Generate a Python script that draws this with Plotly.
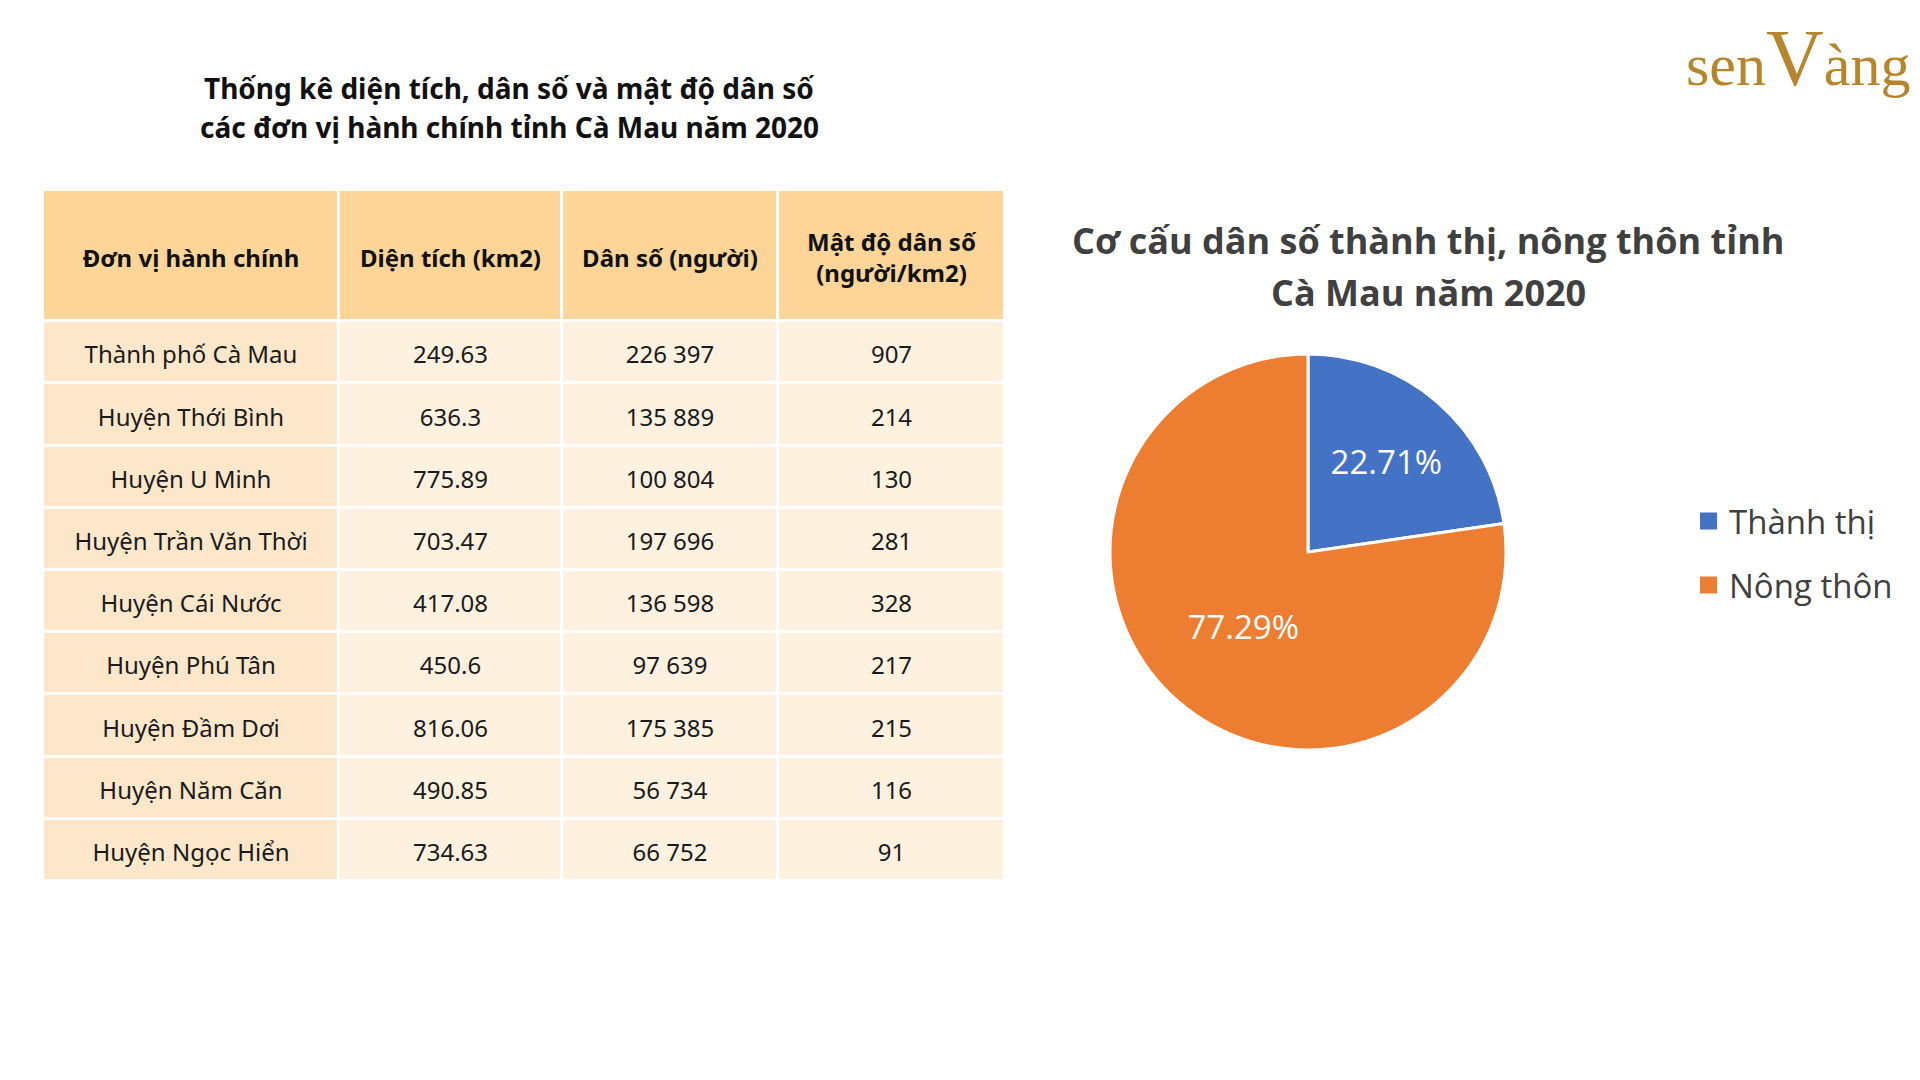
import plotly.graph_objects as go

# ---- data ----
header_labels = ["Đơn vị hành chính", "Diện tích (km2)", "Dân số (người)", "Mật độ dân số<br>(người/km2)"]
units = ["Thành phố Cà Mau", "Huyện Thới Bình", "Huyện U Minh", "Huyện Trần Văn Thời",
         "Huyện Cái Nước", "Huyện Phú Tân", "Huyện Đầm Dơi", "Huyện Năm Căn", "Huyện Ngọc Hiển"]
area_km2 = ["249.63", "636.3", "775.89", "703.47", "417.08", "450.6", "816.06", "490.85", "734.63"]
population = ["226 397", "135 889", "100 804", "197 696", "136 598", "97 639", "175 385", "56 734", "66 752"]
density = ["907", "214", "130", "281", "328", "217", "215", "116", "91"]

pie_labels = ["Thành thị", "Nông thôn"]
pie_values = [22.71, 77.29]
pie_colors = ["#4472C4", "#ED7D31"]

table_title_lines = ["Thống kê diện tích, dân số và mật độ dân số",
                     "các đơn vị hành chính tỉnh Cà Mau năm 2020"]
pie_title_lines = ["Cơ cấu dân số thành thị, nông thôn tỉnh", "Cà Mau năm 2020"]

# ---- layout constants (styles / geometry) ----
OFF = 8                      # default body margin of the html page
W, H = 1920 - 2 * OFF, 1080 - 2 * OFF
COL_WIDTHS = [296, 223, 216, 227]
HEADER_H = 131
ROW_H = 62.1
TEXT_DY = 5                  # visual nudge of cell text (font metrics)
HEADER_FILL, FIRST_COL_FILL, CELL_FILL = "#FDD598", "#FDE7CA", "#FEF1E0"


def px_x(x):
    return (x - OFF) / W


def px_y(y):
    return 1 - (y - OFF) / H


columns = [units, area_km2, population, density]
n_rows = len(units)

col_edges = [0]
for w in COL_WIDTHS:
    col_edges.append(col_edges[-1] + w)
row_edges = [0, HEADER_H] + [HEADER_H + ROW_H * (i + 1) for i in range(n_rows)]
col_centers = [(col_edges[i] + col_edges[i + 1]) / 2 for i in range(len(COL_WIDTHS))]
row_centers = [(row_edges[i] + row_edges[i + 1]) / 2 + TEXT_DY for i in range(n_rows + 1)]

# fill category per cell: 0 header, 1 first data column, 2 other data cells
z = [[0] * len(columns)] + [[1] + [2] * (len(columns) - 1) for _ in range(n_rows)]

fig = go.Figure()

fig.add_trace(go.Heatmap(
    x=col_edges, y=row_edges, z=z,
    zmin=0, zmax=2,
    colorscale=[[0, HEADER_FILL], [0.25, HEADER_FILL], [0.25, FIRST_COL_FILL], [0.75, FIRST_COL_FILL],
                [0.75, CELL_FILL], [1, CELL_FILL]],
    showscale=False, xgap=3, ygap=3, hoverinfo="skip",
    xaxis="x", yaxis="y",
))

fig.add_trace(go.Scatter(
    x=col_centers, y=[row_centers[0]] * len(header_labels),
    text=["<b>%s</b>" % h for h in header_labels],
    mode="text", textposition="middle center",
    textfont=dict(family="Noto Sans", size=24, color="#111111"),
    hoverinfo="skip", showlegend=False,
))

cell_x, cell_y, cell_t = [], [], []
for ci, col in enumerate(columns):
    for ri, val in enumerate(col):
        cell_x.append(col_centers[ci])
        cell_y.append(row_centers[ri + 1])
        cell_t.append(val)

fig.add_trace(go.Scatter(
    x=cell_x, y=cell_y, text=cell_t,
    mode="text", textposition="middle center",
    textfont=dict(family="Noto Sans", size=24, color="#1a1a1a"),
    hoverinfo="skip", showlegend=False,
))

fig.add_trace(go.Pie(
    labels=pie_labels,
    values=pie_values,
    marker=dict(colors=pie_colors, line=dict(color="white", width=3)),
    sort=False,
    direction="clockwise",
    rotation=0,
    texttemplate="%{value:.2f}%",
    textposition="inside",
    insidetextorientation="horizontal",
    textfont=dict(family="Open Sans", size=33, color="white"),
    domain=dict(x=[px_x(1110), px_x(1506)], y=[px_y(750), px_y(354)]),
    showlegend=False,
    hoverinfo="label+percent",
))

annotations = []
for line, y in zip(table_title_lines, [88, 127]):
    annotations.append(dict(text="<b>%s</b>" % line, x=px_x(509), y=px_y(y), xref="paper", yref="paper",
                            showarrow=False, xanchor="center", yanchor="middle",
                            font=dict(family="Noto Sans", size=28, color="#111111")))
for line, y in zip(pie_title_lines, [240, 293]):
    annotations.append(dict(text="<b>%s</b>" % line, x=px_x(1428), y=px_y(y), xref="paper", yref="paper",
                            showarrow=False, xanchor="center", yanchor="middle",
                            font=dict(family="Open Sans", size=36, color="#404040")))

annotations.append(dict(text="sen<span style='font-size:80px'>V</span>àng", x=px_x(1912), y=px_y(58),
                        xref="paper", yref="paper", showarrow=False, xanchor="right", yanchor="middle",
                        font=dict(family="Liberation Serif", size=60, color="#B5862C")))

shapes = []
legend_y = [521, 585]
for i, (lab, col) in enumerate(zip(pie_labels, pie_colors)):
    cy = legend_y[i]
    shapes.append(dict(type="rect", xref="paper", yref="paper",
                       x0=px_x(1700), x1=px_x(1717), y0=px_y(cy + 8.5), y1=px_y(cy - 8.5),
                       fillcolor=col, line=dict(width=0)))
    annotations.append(dict(text=lab, x=px_x(1727), y=px_y(cy), xref="paper", yref="paper",
                            showarrow=False, xanchor="left", yanchor="middle",
                            font=dict(family="Open Sans", size=33, color="#404040")))

fig.update_layout(
    width=W, height=H,
    margin=dict(l=0, r=0, t=0, b=0),
    paper_bgcolor="white",
    plot_bgcolor="white",
    annotations=annotations,
    shapes=shapes,
    xaxis=dict(domain=[px_x(43), px_x(1005)], range=[0, col_edges[-1]], visible=False, fixedrange=True),
    yaxis=dict(domain=[px_y(881), px_y(190)], range=[row_edges[-1], 0], visible=False, fixedrange=True),
    showlegend=False,
)

fig.write_html("out.html")
